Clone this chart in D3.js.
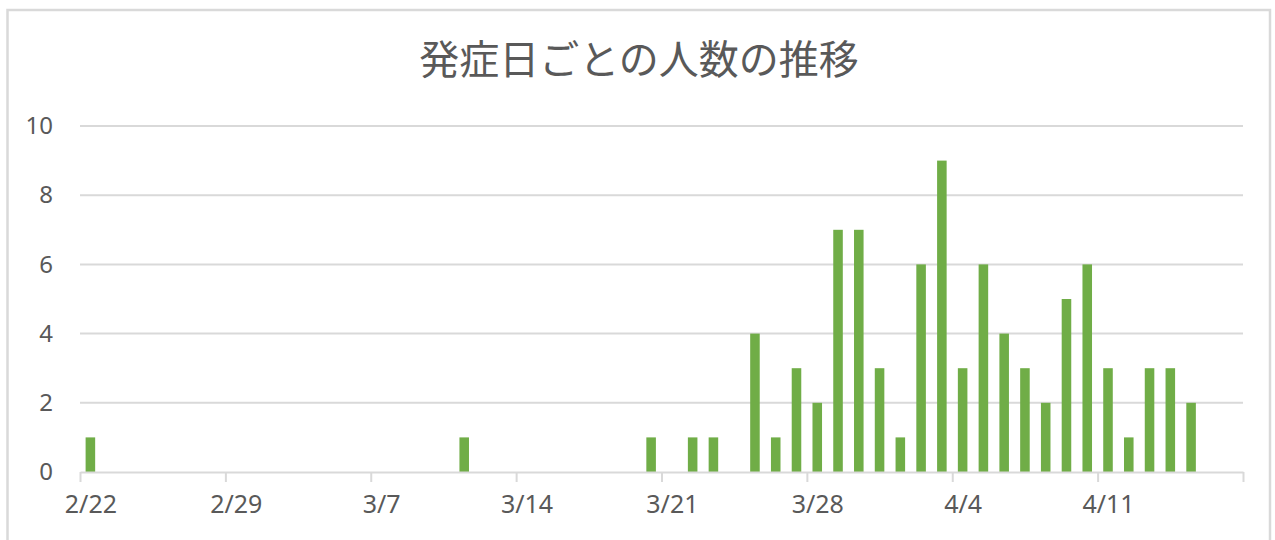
<!DOCTYPE html>
<html>
<head>
<meta charset="utf-8">
<script src="https://cdn.jsdelivr.net/npm/d3@7"></script>
<style>
  body { margin: 0; background: #fff; }
  text { font-family: "Noto Sans", "Noto Sans CJK JP", sans-serif; fill: #595959; }
</style>
</head>
<body>
<svg id="chart" width="1275" height="540"></svg>
<script>
// onset dates (2020) and number of people
const dates = ["2/22", "3/11", "3/20", "3/22", "3/23", "3/25", "3/26", "3/27", "3/28",
  "3/29", "3/30", "3/31", "4/1", "4/2", "4/3", "4/4", "4/5", "4/6", "4/7", "4/8",
  "4/9", "4/10", "4/11", "4/12", "4/13", "4/14", "4/15"];
const counts = [1, 1, 1, 1, 1, 4, 1, 3, 2,
  7, 7, 3, 1, 6, 9, 3, 6, 4, 3, 2,
  5, 6, 3, 1, 3, 3, 2];
const tickLabels = ["2/22", "2/29", "3/7", "3/14", "3/21", "3/28", "4/4", "4/11", "4/18"];
const yTicks = [0, 2, 4, 6, 8, 10];

const parse = d3.utcParse("%Y/%m/%d");
const toDate = s => parse("2020/" + s);
const fmt = d3.utcFormat("%-m/%-d");

const svg = d3.select("#chart");

// chart frame
svg.append("rect")
  .attr("x", 7.5).attr("y", 10)
  .attr("width", 1262.5).attr("height", 560)
  .attr("fill", "white")
  .attr("stroke", "#d9d9d9")
  .attr("stroke-width", 2.5);

const x = d3.scaleUtc()
  .domain([toDate("2/22"), toDate("4/18")])
  .range([80, 1243]);
const y = d3.scaleLinear().domain([0, 10]).range([472, 126]);

const day = x(toDate("2/23")) - x(toDate("2/22"));
const barW = day * 0.46;

// title
svg.append("text")
  .attr("x", 639).attr("y", 74)
  .attr("text-anchor", "middle")
  .style("font-family", '"Noto Sans CJK JP", sans-serif')
  .style("font-size", "40px")
  .text("発症日ごとの人数の推移");

// gridlines
svg.append("g")
  .selectAll("line")
  .data(yTicks.filter(d => d > 0))
  .join("line")
  .attr("x1", 80).attr("x2", 1243)
  .attr("y1", d => y(d)).attr("y2", d => y(d))
  .attr("stroke", "#d9d9d9")
  .attr("stroke-width", 2);

// y labels
const yAxis = svg.append("g")
  .attr("transform", "translate(80,0)")
  .call(d3.axisLeft(y).tickValues(yTicks).tickSize(0).tickPadding(27));
yAxis.select(".domain").remove();
yAxis.selectAll("text")
  .style("font-size", "24px")
  .style("fill", "#595959")
  .style("font-family", '"Noto Sans", sans-serif');

// bars
const data = dates.map((d, i) => ({date: toDate(d), value: counts[i]}));
svg.append("g")
  .selectAll("rect")
  .data(data)
  .join("rect")
  .attr("x", d => x(d.date) + day / 2 - barW / 2)
  .attr("y", d => y(d.value))
  .attr("width", barW)
  .attr("height", d => y(0) - y(d.value))
  .attr("fill", "#70ad47");

// x axis
const xAxis = svg.append("g")
  .attr("transform", "translate(0," + y(0) + ")")
  .call(d3.axisBottom(x)
    .tickValues(tickLabels.map(toDate))
    .tickFormat(d => fmt(d) === "4/18" ? "" : fmt(d))
    .tickSizeInner(10).tickSizeOuter(0).tickPadding(13));
xAxis.select(".domain").attr("stroke", "#d9d9d9").attr("stroke-width", 2);
xAxis.selectAll(".tick line").attr("stroke", "#d9d9d9").attr("stroke-width", 2);
xAxis.selectAll("text")
  .attr("dx", day / 2)
  .style("font-size", "25px")
  .style("fill", "#595959")
  .style("font-family", '"Noto Sans", sans-serif');
</script>
</body>
</html>
